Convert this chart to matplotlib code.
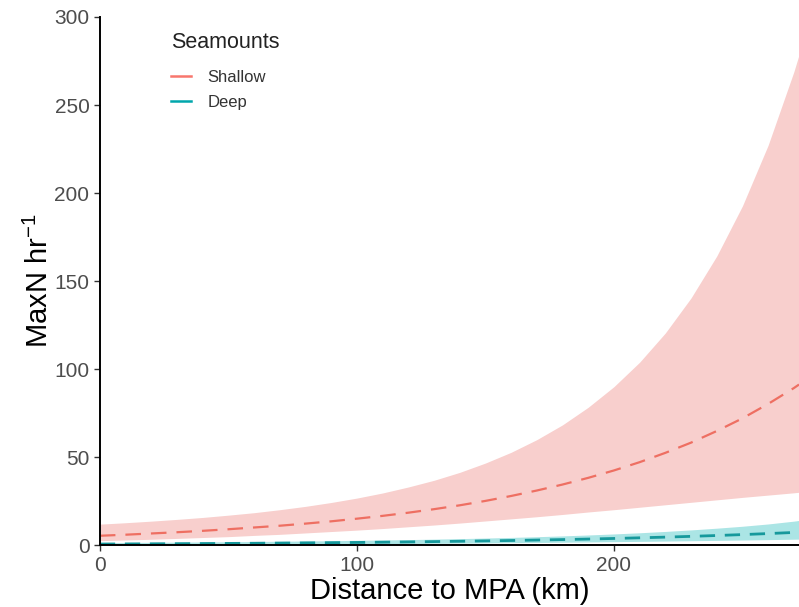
import matplotlib
matplotlib.use("Agg")
import matplotlib.pyplot as plt
from matplotlib.lines import Line2D

plt.rcParams['font.family'] = ['Liberation Sans', 'DejaVu Sans']
plt.rcParams['mathtext.fontset'] = 'custom'
plt.rcParams['mathtext.rm'] = 'Liberation Sans'
plt.rcParams['mathtext.it'] = 'Liberation Sans'
plt.rcParams['mathtext.default'] = 'regular'

distance = [0, 10, 20, 30, 40, 50, 60, 70, 80, 90, 100, 110, 120, 130, 140,
            150, 160, 170, 180, 190, 200, 210, 220, 230, 240, 250, 260, 270, 272]

shallow_mean = [5.3, 5.9, 6.6, 7.3, 8.1, 9.0, 10.0, 11.0, 12.2, 13.5, 15.0, 16.6, 18.4, 20.4, 22.6,
                25.1, 27.9, 31.0, 34.4, 38.2, 42.4, 47.1, 52.4, 58.2, 64.8, 72.0, 80.2, 89.2, 91.2]
shallow_upper = [11.9, 12.7, 13.6, 14.6, 15.7, 17.0, 18.4, 20.1, 22.0, 24.2, 26.7, 29.6, 33.0, 36.8, 41.3,
                 46.6, 52.7, 59.9, 68.3, 78.3, 90.0, 103.9, 120.5, 140.4, 164.2, 192.7, 227.2, 268.9, 278.5]
shallow_lower = [2.5, 2.9, 3.3, 3.8, 4.3, 4.8, 5.5, 6.1, 6.9, 7.7, 8.5, 9.4, 10.4, 11.4, 12.5,
                 13.7, 14.9, 16.1, 17.4, 18.8, 20.1, 21.5, 22.9, 24.3, 25.7, 27.1, 28.4, 29.7, 30.0]

deep_mean = [0.6, 0.66, 0.72, 0.79, 0.87, 0.95, 1.04, 1.14, 1.25, 1.37, 1.5, 1.65, 1.8, 1.98, 2.17,
             2.38, 2.6, 2.86, 3.13, 3.43, 3.76, 4.13, 4.52, 4.96, 5.44, 5.96, 6.54, 7.17, 7.3]
deep_upper = [1.4, 1.48, 1.57, 1.67, 1.78, 1.9, 2.03, 2.17, 2.32, 2.49, 2.68, 2.89, 3.12, 3.38, 3.67,
              3.99, 4.35, 4.76, 5.22, 5.74, 6.33, 7.0, 7.76, 8.62, 9.6, 10.7, 12.0, 13.6, 14.0]
deep_lower = [0.25, 0.28, 0.31, 0.35, 0.39, 0.44, 0.49, 0.55, 0.61, 0.68, 0.76, 0.84, 0.93, 1.03, 1.13,
              1.24, 1.36, 1.49, 1.63, 1.78, 1.94, 2.1, 2.28, 2.47, 2.67, 2.88, 3.1, 3.33, 3.38]

groups = ["Shallow", "Deep"]
x_ticks = [0, 100, 200]
y_ticks = [0, 50, 100, 150, 200, 250, 300]

fig = plt.figure(figsize=(7.99, 6.07), dpi=100)
ax = fig.add_axes([0.125, 0.102, 0.875, 0.870])

ax.fill_between(distance, shallow_lower, shallow_upper, color="#F8CFCD", lw=0)
ax.fill_between(distance, deep_lower, deep_upper, color="#ABE5E5", lw=0)
ax.plot(distance, shallow_mean, color="#EE6F62", lw=1.6, dashes=(7, 4.5))
ax.plot(distance, deep_mean, color="#16999C", lw=2.0, dashes=(5.5, 3.5))

ax.set_xlim(0, 272)
ax.set_ylim(0, 300)
ax.set_xticks(x_ticks)
ax.set_yticks(y_ticks)
ax.tick_params(axis='both', labelsize=15, labelcolor='#4D4D4D', color='#333333', length=4, width=1)
for s in ['top', 'right']:
    ax.spines[s].set_visible(False)
for s in ['left', 'bottom']:
    ax.spines[s].set_linewidth(1.4)
    ax.spines[s].set_color('black')

ax.set_xlabel("Distance to MPA (km)", fontsize=21, labelpad=2)
ax.set_ylabel("MaxN hr$^{-1}$", fontsize=21, labelpad=0)

handles = [Line2D([0], [0], color="#F8766D", lw=1.8),
           Line2D([0], [0], color="#00A6AC", lw=1.8)]
leg = ax.legend(handles, groups, title="Seamounts", loc="upper left",
                bbox_to_anchor=(0.08, 1.0), frameon=False, fontsize=12,
                title_fontsize=15.5, handlelength=1.2, handletextpad=1.0,
                labelspacing=0.6, alignment='left')
leg._legend_box.sep = 12
for t in leg.get_texts():
    t.set_color('#333333')
leg.get_title().set_color('#222222')

fig.savefig("out.png", dpi=100)
